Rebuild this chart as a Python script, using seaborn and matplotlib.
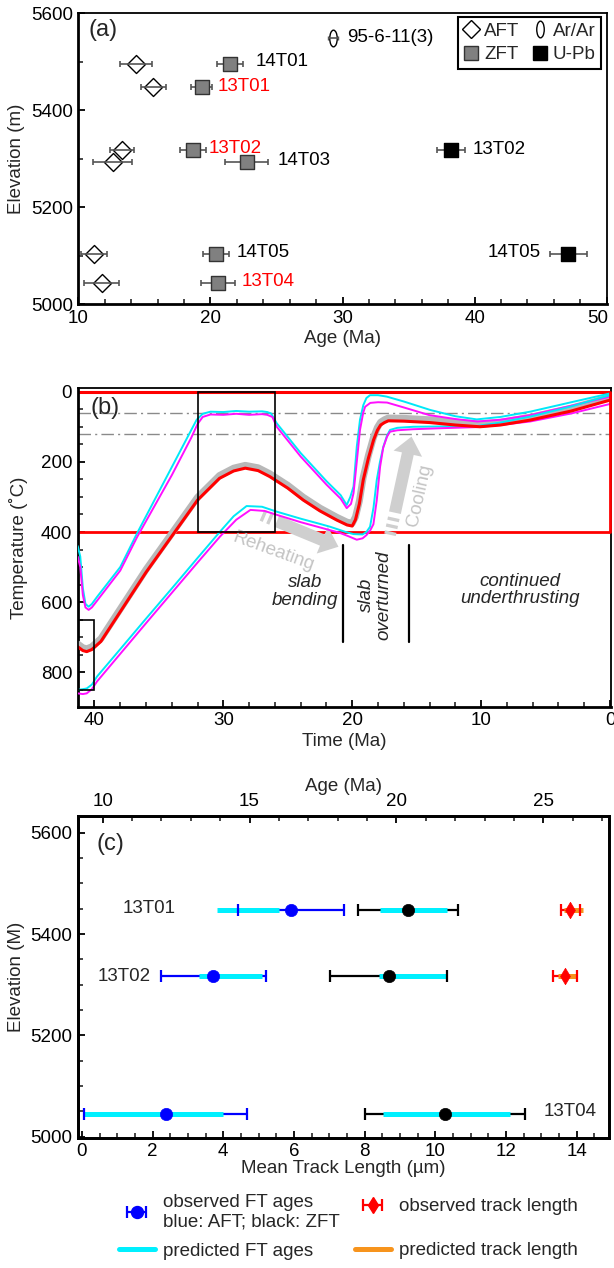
import numpy as np
import matplotlib
matplotlib.use("Agg")
import matplotlib.pyplot as plt
import seaborn as sns
from matplotlib.lines import Line2D
from matplotlib.path import Path
from matplotlib.transforms import Affine2D, ScaledTranslation
from matplotlib.patches import Rectangle
from matplotlib.ticker import MultipleLocator

# ---------------- panel (a) data ----------------
aft_age = [14.39, 15.69, 13.32, 12.61, 11.19, 11.78]
aft_err = [1.22, 0.98, 0.89, 1.48, 1.00, 1.32]
aft_elev = [5496, 5448, 5319, 5293, 5103, 5044]
zft_age = [21.50, 19.33, 18.68, 22.74, 20.43, 20.61]
zft_err = [1.00, 0.80, 0.95, 1.60, 0.97, 1.29]
zft_elev = [5496, 5448, 5319, 5293, 5103, 5044]
upb_age = [38.21, 47.10]
upb_err = [1.07, 1.40]
upb_elev = [5319, 5103]
arar_age = [29.26]
arar_err = [0.38]
arar_elev = [5550]
labels_a = ['95-6-11(3)', '14T01', '13T01', '13T02', '14T03', '14T05', '13T04', '13T02', '14T05']
labels_a_color = ['black', 'black', 'red', 'red', 'black', 'black', 'red', 'black', 'black']
labels_a_x = [30.36, 23.39, 20.52, 19.90, 25.10, 21.97, 22.36, 39.84, 45.02]
labels_a_y = [5550, 5500, 5450, 5321, 5297, 5106, 5047, 5319, 5106]
labels_a_ha = ['left'] * 8 + ['right']

# ---------------- panel (b) data ----------------
t_best = [41.3, 40.9, 40.6, 40.2, 39.5, 36.0, 32.0, 30.3, 29.2, 28.3, 27.3, 26.4, 25.0, 23.8, 22.5,
          21.2, 20.4, 20.0, 19.75, 19.45, 19.15, 18.75, 18.35, 18.05, 17.8, 17.5, 17.2, 16.0, 14.0,
          12.0, 10.1, 8.5, 6.2, 3.0, 0.0]
T_best = [727, 738, 741, 735, 712, 515, 309, 247, 226, 218, 225, 242, 275, 309, 340,
          366, 380, 383, 365, 320, 252, 190, 138, 110, 95, 88, 83, 84, 88,
          95, 100, 95, 81, 55, 24]
t_envelope = [41.3, 40.9, 40.6, 40.2, 39.5, 36.0, 32.0, 30.3, 29.2, 28.3, 27.3, 26.4, 25.0, 23.8, 22.5,
              21.2, 20.4, 20.0, 19.75, 19.45, 19.15, 18.75, 18.35, 18.05, 17.8, 17.5, 17.2, 16.0, 14.0,
              12.0, 10.1, 8.5, 6.2, 3.0, 0.0]
T_envelope = [719, 730, 733, 727, 704, 507, 301, 239, 218, 210, 217, 234, 267, 301, 332,
              358, 372, 375, 357, 312, 244, 182, 130, 102, 87, 80, 75, 76, 80,
              87, 92, 87, 73, 47, 16]
t_cyan_hi = [41.3, 41.1, 40.9, 40.7, 40.45, 40.2, 39.8, 38.0, 36.7, 34.0, 32.5, 32.07, 31.6, 31.0,
             30.0, 29.0, 28.0, 27.0, 26.6, 26.3, 25.86, 24.0, 22.0, 20.9, 20.43, 20.15, 19.9, 19.65,
             19.4, 19.14, 18.9, 18.62, 18.0, 17.33, 16.0, 13.96, 12.0, 10.34, 8.5, 6.2, 3.0, 0.0]
T_cyan_hi = [440, 470, 560, 605, 613, 605, 585, 500, 404, 215, 110, 80, 63, 57,
             58, 55, 57, 56, 58, 62, 90, 175, 255, 295, 323, 300, 270, 157,
             80, 38, 18, 10, 10, 14, 28, 52, 70, 79, 72, 57, 30, 5]
t_mag_hi = [41.3, 41.1, 40.9, 40.7, 40.45, 40.2, 39.8, 38.0, 36.7, 34.0, 32.5, 32.0, 31.6, 31.0,
            30.0, 29.0, 28.0, 27.0, 26.6, 26.2, 25.86, 24.0, 22.0, 20.9, 20.43, 20.1, 19.9, 19.65,
            19.4, 19.15, 19.0, 18.6, 18.0, 17.3, 16.0, 14.0, 12.0, 10.3, 8.5, 6.2, 3.0, 0.0]
T_mag_hi = [470, 500, 580, 615, 622, 615, 596, 510, 415, 238, 132, 92, 72, 65,
            66, 63, 66, 64, 66, 72, 100, 185, 265, 305, 332, 320, 289, 200,
            109, 60, 43, 32, 30, 31, 45, 67, 78, 85, 80, 67, 40, 14]
t_cyan_lo = [41.3, 40.9, 40.6, 40.2, 39.8, 38.0, 36.0, 34.0, 32.0, 30.26, 29.2, 28.2, 27.0, 25.86,
             24.0, 22.5, 21.72, 20.5, 19.9, 19.2, 18.9, 18.62, 18.35, 18.1, 17.85, 17.59, 17.3, 17.07,
             16.5, 15.26, 13.0, 10.34, 8.5, 6.2, 3.0, 0.0]
T_cyan_lo = [850, 848, 846, 835, 812, 734, 647, 561, 474, 399, 355, 326, 328, 342,
             362, 377, 385, 400, 406, 407, 400, 385, 330, 252, 200, 157, 125, 109,
             103, 100, 99, 98, 88, 71, 42, 10]
t_mag_lo = [41.3, 40.9, 40.6, 40.2, 39.8, 36.0, 32.0, 30.26, 29.0, 27.9, 26.8, 25.86, 24.0, 22.0,
            21.0, 20.3, 19.65, 19.2, 18.9, 18.6, 18.36, 18.1, 17.84, 17.6, 17.3, 17.07, 16.5, 15.26,
            13.0, 10.34, 8.5, 6.2, 3.0, 0.0]
T_mag_lo = [860, 862, 860, 848, 826, 660, 487, 413, 365, 337, 340, 351, 372, 392,
            402, 412, 422, 418, 409, 395, 378, 310, 214, 160, 128, 114, 110, 107,
            104, 101, 95, 85, 62, 35]

# ---------------- panel (c) data ----------------
samples_c = ['13T01', '13T02', '13T04']
elev_c = [5447, 5317, 5045]
aft_obs = [16.41, 13.76, 12.14]
aft_obs_err = [1.80, 1.79, 2.78]
zft_obs = [20.40, 19.73, 21.65]
zft_obs_err = [1.70, 2.00, 2.71]
aft_pred_lo = [13.89, 13.28, 9.36]
aft_pred_hi = [16.00, 15.43, 14.09]
zft_pred_lo = [19.43, 19.39, 19.54]
zft_pred_hi = [21.73, 21.73, 23.88]
tl_elev = [5447, 5317]
tl_obs = [13.82, 13.67]
tl_err = [0.27, 0.34]
tl_pred_lo = [13.65, 13.48]
tl_pred_hi = [14.17, 14.02]

# ---------------- style ----------------
sns.set_theme(style="ticks")
plt.rcParams['font.family'] = ['Liberation Sans', 'DejaVu Sans']
plt.rcParams['axes.edgecolor'] = 'black'
FS = 13.5

fig = plt.figure(figsize=(6.14, 12.68), dpi=100)
W, H = 614.0, 1268.0


def add_ax(l, t, r, b):
    return fig.add_axes([l / W, 1 - b / H, (r - l) / W, (b - t) / H])


def style_ax(ax, lw_main=2.0, lw_other=1.3):
    for s in ['left', 'bottom']:
        ax.spines[s].set_linewidth(lw_main)
        ax.spines[s].set_color('black')
    for s in ['top', 'right']:
        ax.spines[s].set_linewidth(lw_other)
        ax.spines[s].set_color('black')
    ax.tick_params(which='major', direction='in', length=5, width=1.3, labelsize=FS, pad=4,
                   colors='black', top=False, right=False)
    ax.tick_params(which='minor', direction='in', length=3.5, width=1.2, top=False, right=False)


# ================= panel (a) =================
ax_a = add_ax(78.3, 13.3, 606.7, 304.3)
ax_a.set_facecolor('white')
ax_a.errorbar(aft_age, aft_elev, xerr=aft_err, fmt='none', ecolor='#555555', elinewidth=1.2,
              capsize=2.5, capthick=1.2, zorder=3)
sns.scatterplot(x=aft_age, y=aft_elev, ax=ax_a, marker='D', s=84, color='white',
                edgecolor='black', linewidth=1.0, zorder=2, legend=False)
ell = Path.unit_circle().transformed(Affine2D().scale(0.45, 1.0))
ax_a.errorbar(arar_age, arar_elev, xerr=arar_err, fmt='none', ecolor='#555555', elinewidth=1.2,
              capsize=1.5, capthick=1.0, zorder=3)
sns.scatterplot(x=arar_age, y=arar_elev, ax=ax_a, marker=ell, s=144, color='white',
                edgecolor='black', linewidth=1.0, zorder=2, legend=False)
ax_a.errorbar(zft_age, zft_elev, xerr=zft_err, fmt='none', ecolor='#555555', elinewidth=1.2,
              capsize=2.5, capthick=1.2, zorder=3)
sns.scatterplot(x=zft_age, y=zft_elev, ax=ax_a, marker='s', s=90, color='#808080',
                edgecolor='#333333', linewidth=1.0, zorder=4, legend=False)
ax_a.errorbar(upb_age, upb_elev, xerr=upb_err, fmt='none', ecolor='#555555', elinewidth=1.2,
              capsize=2.5, capthick=1.2, zorder=3)
sns.scatterplot(x=upb_age, y=upb_elev, ax=ax_a, marker='s', s=90, color='black',
                edgecolor='black', linewidth=1.0, zorder=4, legend=False)
for txt, c, x, y, ha in zip(labels_a, labels_a_color, labels_a_x, labels_a_y, labels_a_ha):
    ax_a.text(x, y, txt, color=c, fontsize=FS, ha=ha, va='center')
ax_a.text(10.74, 5566, '(a)', fontsize=17, ha='left', va='center')
ax_a.set_xlim(10, 50)
ax_a.set_ylim(5000, 5600)
ax_a.xaxis.set_major_locator(MultipleLocator(10))
ax_a.xaxis.set_minor_locator(MultipleLocator(2))
ax_a.yaxis.set_major_locator(MultipleLocator(200))
ax_a.yaxis.set_minor_locator(MultipleLocator(100))
style_ax(ax_a)
ax_a.set_xlabel('Age (Ma)', fontsize=FS)
ax_a.set_ylabel('Elevation (m)', fontsize=FS)
ax_a.xaxis.set_label_coords(0.5, -0.088)
ax_a.yaxis.set_label_coords(-0.100, 0.5)
fig.canvas.draw()
for lab in ax_a.get_xticklabels():
    if lab.get_text() == '50':
        lab.set_transform(lab.get_transform() + ScaledTranslation(-9 / 100, 0, fig.dpi_scale_trans))
hdl = [Line2D([], [], ls='none', marker='D', ms=9.2, mfc='white', mec='black', mew=1.0),
       Line2D([], [], ls='none', marker='s', ms=9.5, mfc='#808080', mec='#333333', mew=1.0),
       Line2D([], [], ls='none', marker=ell, ms=12, mfc='white', mec='black', mew=1.0),
       Line2D([], [], ls='none', marker='s', ms=9.5, mfc='black', mec='black', mew=1.0)]
leg = ax_a.legend(hdl, ['AFT', 'ZFT', 'Ar/Ar', 'U-Pb'], ncol=2, loc='upper right',
                  bbox_to_anchor=(0.99, 0.988), borderaxespad=0, fontsize=FS, frameon=True,
                  fancybox=False, framealpha=1, edgecolor='black', handlelength=0.8,
                  handletextpad=0.3, columnspacing=0.7, labelspacing=0.35, borderpad=0.3)
leg.get_frame().set_linewidth(1.5)

# ================= panel (b) =================
ax_b = add_ax(77.7, 388.0, 610.7, 706.7)
ax_b.set_facecolor('white')
ax_b.axhline(0, color='red', lw=2.2, zorder=2)
ax_b.axhline(400, color='red', lw=2.0, zorder=2)
ax_b.plot([0.02, 0.02], [0, 400], color='red', lw=2.0, zorder=6, clip_on=False)
ax_b.axhline(60, color='#8a8a8a', lw=1.0, ls=(0, (9, 3, 1.5, 3)), zorder=1)
ax_b.axhline(120, color='#8a8a8a', lw=1.0, ls=(0, (9, 3, 1.5, 3)), zorder=1)
sns.lineplot(x=t_envelope, y=T_envelope, ax=ax_b, color='#b8b8b8', lw=5,
             sort=False, estimator=None, zorder=3)
sns.lineplot(x=t_cyan_hi, y=T_cyan_hi, ax=ax_b, color='#00e8f8', lw=1.4, sort=False,
             estimator=None, zorder=4)
sns.lineplot(x=t_mag_hi, y=T_mag_hi, ax=ax_b, color='#ff10ff', lw=1.4, sort=False,
             estimator=None, zorder=4)
sns.lineplot(x=t_cyan_lo, y=T_cyan_lo, ax=ax_b, color='#00e8f8', lw=1.4, sort=False,
             estimator=None, zorder=4)
sns.lineplot(x=t_mag_lo, y=T_mag_lo, ax=ax_b, color='#ff10ff', lw=1.4, sort=False,
             estimator=None, zorder=4)
sns.lineplot(x=t_best, y=T_best, ax=ax_b, color='#ff0000', lw=2.2, sort=False,
             estimator=None, zorder=5)
ax_b.add_patch(Rectangle((26.0, 0), 6.0, 400, fill=False, ec='black', lw=1.2, zorder=6))
ax_b.add_patch(Rectangle((40.0, 650), 1.3, 200, fill=False, ec='black', lw=1.2, zorder=6))
ax_b.plot([20.75, 20.75], [437, 713], color='black', lw=1.6)
ax_b.plot([15.6, 15.6], [437, 713], color='black', lw=1.6)
arrow_gray = '#cfcfcf'
# reheating arrow
ax_b.plot([27.0, 26.05], [352, 367], color=arrow_gray, lw=8.5, dashes=(0.28, 0.32),
          solid_capstyle='butt', dash_capstyle='butt', zorder=2)
ax_b.annotate('', xy=(21.07, 442), xytext=(25.85, 369.5),
              arrowprops=dict(arrowstyle='simple,head_length=0.9,head_width=1.5,tail_width=0.62',
                              fc=arrow_gray, ec='none', mutation_scale=14, shrinkA=0, shrinkB=0),
              zorder=2)
ax_b.text(26.07, 456, 'Reheating', rotation=-20, color='#c4c4c4', fontsize=FS,
          ha='center', va='center', rotation_mode='anchor')
# cooling arrow
ax_b.plot([17.07, 16.72], [408, 350], color=arrow_gray, lw=8.5, dashes=(0.28, 0.32),
          solid_capstyle='butt', dash_capstyle='butt', zorder=2)
ax_b.annotate('', xy=(15.4, 128), xytext=(16.69, 345),
              arrowprops=dict(arrowstyle='simple,head_length=0.9,head_width=1.5,tail_width=0.62',
                              fc=arrow_gray, ec='none', mutation_scale=14, shrinkA=0, shrinkB=0),
              zorder=2)
ax_b.text(14.74, 294, 'Cooling', rotation=77.5, color='#c4c4c4', fontsize=FS,
          ha='center', va='center', rotation_mode='anchor')
ax_b.text(21.1, 570, 'slab\nbending', style='italic', fontsize=FS, ha='right', va='center',
          multialignment='center', linespacing=1.05)
ax_b.text(18.2, 580, 'slab\noverturned', style='italic', fontsize=FS, ha='center', va='center',
          rotation=90, multialignment='center', linespacing=1.05)
ax_b.text(6.98, 565, 'continued\nunderthrusting', style='italic', fontsize=FS, ha='center',
          va='center', multialignment='center', linespacing=1.05)
ax_b.text(40.3, 47, '(b)', fontsize=17, ha='left', va='center')
ax_b.set_xlim(41.3, -0.05)
ax_b.set_ylim(898, -10.5)
ax_b.xaxis.set_major_locator(MultipleLocator(10))
ax_b.xaxis.set_minor_locator(MultipleLocator(2))
ax_b.yaxis.set_major_locator(MultipleLocator(200))
ax_b.yaxis.set_minor_locator(MultipleLocator(50))
style_ax(ax_b)
ax_b.set_xlabel('Time (Ma)', fontsize=FS)
ax_b.set_ylabel('Temperature (\u02daC)', fontsize=FS)
ax_b.xaxis.set_label_coords(0.5, -0.083)
ax_b.yaxis.set_label_coords(-0.094, 0.5)

# ================= panel (c) =================
ax_c = add_ax(77.7, 816.0, 609.0, 1137.7)
ax_c.set_facecolor('white')
ax_t = ax_c.twiny()
eb = ax_t.errorbar(aft_obs, elev_c, xerr=aft_obs_err, fmt='none', ecolor='#0000ff',
                   elinewidth=1.6, capsize=4.3, capthick=1.6, zorder=2)
for cl in eb[1]:
    cl.set_zorder(5)
eb = ax_t.errorbar(zft_obs, elev_c, xerr=zft_obs_err, fmt='none', ecolor='black',
                   elinewidth=1.6, capsize=4.3, capthick=1.6, zorder=2)
for cl in eb[1]:
    cl.set_zorder(5)
ax_t.hlines(elev_c, aft_pred_lo, aft_pred_hi, colors='#00f0ff', lw=3.6, zorder=3)
ax_t.hlines(elev_c, zft_pred_lo, zft_pred_hi, colors='#00f0ff', lw=3.6, zorder=3)
sns.scatterplot(x=aft_obs, y=elev_c, ax=ax_t, color='#0000ff', s=78, edgecolor='#0000ff',
                linewidth=0.5, zorder=6, legend=False)
sns.scatterplot(x=zft_obs, y=elev_c, ax=ax_t, color='black', s=78, edgecolor='black',
                linewidth=0.5, zorder=6, legend=False)
eb = ax_c.errorbar(tl_obs, tl_elev, xerr=tl_err, fmt='none', ecolor='red', elinewidth=1.6,
                   capsize=4.0, capthick=1.6, zorder=2)
for cl in eb[1]:
    cl.set_zorder(5)
ax_c.hlines(tl_elev, tl_pred_lo, tl_pred_hi, colors='#f7941d', lw=3.6, zorder=3)
sns.scatterplot(x=tl_obs, y=tl_elev, ax=ax_c, marker='d', s=70, color='red', edgecolor='red',
                linewidth=0.5, zorder=6, legend=False)
ax_c.text(1.89, 5450, samples_c[0], fontsize=FS, ha='center', va='center')
ax_c.text(1.19, 5317, samples_c[1], fontsize=FS, ha='center', va='center')
ax_c.text(13.83, 5049, samples_c[2], fontsize=FS, ha='center', va='center')
ax_c.text(0.4, 5578, '(c)', fontsize=17, ha='left', va='center')
trk_lim = (-0.12, 14.92)
ax_c.xaxis.set_major_locator(MultipleLocator(2))
ax_c.xaxis.set_minor_locator(MultipleLocator(0.5))
ax_c.yaxis.set_major_locator(MultipleLocator(200))
ax_c.yaxis.set_minor_locator(MultipleLocator(50))
ax_t.xaxis.set_major_locator(MultipleLocator(5))
ax_t.xaxis.set_minor_locator(MultipleLocator(1))
style_ax(ax_c, 2.0, 2.0)
for s in ax_t.spines.values():
    s.set_linewidth(2.0)
    s.set_color('black')
ax_t.tick_params(which='major', direction='in', length=5, width=1.3, labelsize=FS, pad=4,
                 top=True, bottom=False, colors='black')
ax_t.tick_params(which='minor', direction='in', length=3.5, width=1.2, top=True, bottom=False)
ax_c.set_xlabel('Mean Track Length (\u00b5m)', fontsize=FS)
ax_c.set_ylabel('Elevation (M)', fontsize=FS)
ax_t.set_xlabel('Age (Ma)', fontsize=FS)
ax_t.set_ylabel('')
ax_c.xaxis.set_label_coords(0.5, -0.069)
ax_c.yaxis.set_label_coords(-0.0985, 0.5)
ax_t.xaxis.set_label_coords(0.5, 1.078)

# bottom legends
h_obs = ax_t.errorbar([np.nan], [np.nan], xerr=[1.0], fmt='o', color='#0000ff', ms=8.6,
                      elinewidth=1.6, capsize=4.3, capthick=1.6)
h_pred = Line2D([], [], color='#00f0ff', lw=3.6)
h_tl = ax_c.errorbar([np.nan], [np.nan], xerr=[1.0], fmt='d', color='red', ms=8.5,
                     elinewidth=1.6, capsize=4.0, capthick=1.6)
h_tlp = Line2D([], [], color='#f7941d', lw=3.6)
ax_t.set_xlim(9.296 + 1.2023 * trk_lim[0], 9.296 + 1.2023 * trk_lim[1])
ax_c.set_xlim(*trk_lim)
ax_c.set_ylim(4998, 5633)
fig.legend([h_obs, h_pred], ['observed FT ages\nblue: AFT; black: ZFT', 'predicted FT ages'],
           loc='upper left', bbox_to_anchor=(119 / W, 1 - 1194 / H), frameon=False, fontsize=FS,
           handlelength=1.9, handletextpad=0.45, labelspacing=0.64, borderpad=0, borderaxespad=0)
fig.legend([h_tl, h_tlp], ['observed track length', 'predicted track length'],
           loc='upper left', bbox_to_anchor=(355 / W, 1 - 1198 / H), frameon=False, fontsize=FS,
           handlelength=1.9, handletextpad=0.45, labelspacing=1.44, borderpad=0, borderaxespad=0)

fig.savefig('out.png', dpi=100)
